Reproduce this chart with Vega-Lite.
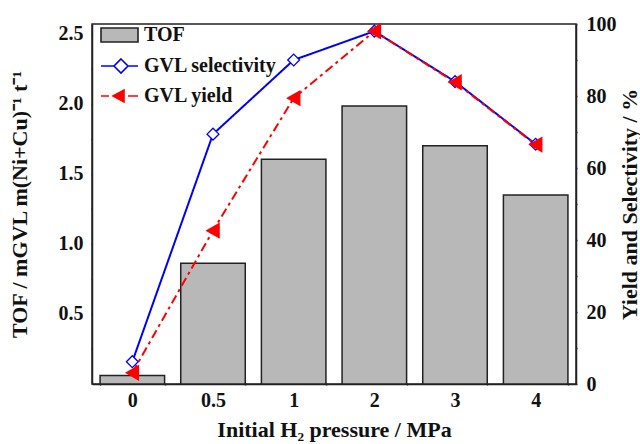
{
  "$schema": "https://vega.github.io/schema/vega-lite/v6.json",
  "width": 484,
  "height": 360,
  "autosize": "none",
  "padding": {"left": 92, "top": 24, "right": 64, "bottom": 60},
  "config": {
    "font": "Liberation Serif",
    "view": {"stroke": "#222", "strokeWidth": 1.5},
    "axis": {
      "labelFont": "Liberation Serif", "labelFontWeight": "bold", "labelFontSize": 20, "labelColor": "#111",
      "titleFont": "Liberation Serif", "titleFontWeight": "bold", "titleFontSize": 22, "titleColor": "#111",
      "domainColor": "#222", "domainWidth": 1.5, "tickColor": "#222", "tickWidth": 1.5, "grid": false,
      "labelOverlap": false
    }
  },
  "data": {
    "values": [
      {"p": "0", "tof": 0.06, "GVL selectivity": 6.2, "GVL yield": 3.1, "series": "TOF"},
      {"p": "0.5", "tof": 0.862, "GVL selectivity": 69.4, "GVL yield": 42.6, "series": "TOF"},
      {"p": "1", "tof": 1.605, "GVL selectivity": 90.0, "GVL yield": 79.4, "series": "TOF"},
      {"p": "2", "tof": 1.985, "GVL selectivity": 98.0, "GVL yield": 98.0, "series": "TOF"},
      {"p": "3", "tof": 1.70, "GVL selectivity": 84.0, "GVL yield": 83.8, "series": "TOF"},
      {"p": "4", "tof": 1.35, "GVL selectivity": 66.6, "GVL yield": 66.5, "series": "TOF"}
    ]
  },
  "encoding": {
    "x": {
      "field": "p", "type": "nominal", "sort": null,
      "scale": {"paddingInner": 0.2, "paddingOuter": 0.1},
      "axis": {
        "title": "Initial H₂ pressure / MPa", "labelAngle": 0, "tickBand": "extent",
        "tickSize": 1, "labelPadding": 5, "titlePadding": 9,
        "encode": {"ticks": {"y2": {"value": -5}}}
      }
    }
  },
  "layer": [
    {
      "encoding": {
        "y": {
          "field": "tof", "type": "quantitative",
          "scale": {"domain": [0, 2.57], "nice": false},
          "axis": {
            "title": "TOF / mGVL m(Ni+Cu)⁻¹ t⁻¹",
            "values": [0.25, 0.5, 0.75, 1.0, 1.25, 1.5, 1.75, 2.0, 2.25, 2.5],
            "labelExpr": "(datum.value * 2) % 1 == 0 ? format(datum.value, '.1f') : ''",
            "tickSize": 1, "labelPadding": 8, "titlePadding": 27,
            "encode": {"ticks": {"x2": {"value": {"expr": "(datum.value * 2) % 1 == 0 ? 5 : 3"}}}}
          }
        }
      },
      "layer": [
        {
          "mark": {"type": "bar", "fill": "#b8b8b8", "stroke": "#222", "strokeWidth": 1.5}
        },
        {
          "mark": {"type": "point", "filled": true, "opacity": 0, "size": 100},
          "encoding": {
            "shape": {
              "field": "series", "type": "nominal",
              "scale": {"domain": ["TOF", "GVL selectivity", "GVL yield"], "range": ["M-1,-1.4H6.4V1.4H-1Z", "M-1,0H1.6M4.4,0H6.4M3,-1.4L4.4,0L3,1.4L1.6,0Z", "M-1,0H0.6M4.4,0H6.4M1.4,0L3.6,-1.2L3.6,1.2Z"]},
              "legend": {
                "title": null, "orient": "none", "legendX": 4, "legendY": 1, "padding": 0,
                "labelFont": "Liberation Serif", "labelFontWeight": "bold", "labelFontSize": 20, "labelColor": "#111",
                "symbolSize": 100, "symbolOpacity": 1, "symbolStrokeWidth": 1.6,
                "labelOffset": 28, "rowPadding": 9
              }
            },
            "fill": {
              "field": "series", "type": "nominal",
              "scale": {"domain": ["TOF", "GVL selectivity", "GVL yield"], "range": ["#b8b8b8", "#ffffff", "#ff0000"]},
              "legend": {"title": null}
            },
            "stroke": {
              "field": "series", "type": "nominal",
              "scale": {"domain": ["TOF", "GVL selectivity", "GVL yield"], "range": ["#222222", "#0000ff", "#ff0000"]},
              "legend": {"title": null}
            }
          }
        }
      ]
    },
    {
      "transform": [{"fold": ["GVL selectivity", "GVL yield"], "as": ["series", "val"]}],
      "encoding": {
        "y": {
          "field": "val", "type": "quantitative",
          "scale": {"domain": [0, 100], "nice": false},
          "axis": {
            "orient": "right",
            "title": "Yield and Selectivity / %", "titleAngle": 270, "titleBaseline": "top",
            "values": [0, 10, 20, 30, 40, 50, 60, 70, 80, 90, 100],
            "labelExpr": "datum.value % 20 == 0 ? format(datum.value, 'd') : ''",
            "tickSize": 1, "labelPadding": 9, "titlePadding": 3,
            "encode": {"ticks": {"x2": {"value": {"expr": "datum.value % 20 == 0 ? -7 : -4"}}}}
          }
        }
      },
      "layer": [
        {
          "mark": {"type": "line", "strokeWidth": 2},
          "encoding": {
            "stroke": {"field": "series", "type": "nominal", "scale": {"domain": ["GVL selectivity", "GVL yield"], "range": ["#0000ff", "#ff0000"]}, "legend": null},
            "strokeDash": {
              "field": "series", "type": "nominal",
              "scale": {"domain": ["GVL selectivity", "GVL yield"], "range": [[1, 0], [9, 4, 3, 4]]},
              "legend": null
            }
          }
        },
        {
          "mark": {"type": "point", "filled": true, "strokeWidth": 1.3, "opacity": 1},
          "encoding": {
            "shape": {"field": "series", "type": "nominal", "scale": {"domain": ["GVL selectivity", "GVL yield"], "range": ["diamond", "triangle-left"]}, "legend": null},
            "size": {"field": "series", "type": "nominal", "scale": {"domain": ["GVL selectivity", "GVL yield"], "range": [140, 200]}, "legend": null},
            "fill": {"field": "series", "type": "nominal", "scale": {"domain": ["GVL selectivity", "GVL yield"], "range": ["#ffffff", "#ff0000"]}, "legend": null},
            "stroke": {"field": "series", "type": "nominal", "legend": null}
          }
        }
      ]
    }
  ],
  "resolve": {"scale": {"y": "independent", "shape": "independent", "fill": "independent", "stroke": "independent", "size": "independent"}}
}
